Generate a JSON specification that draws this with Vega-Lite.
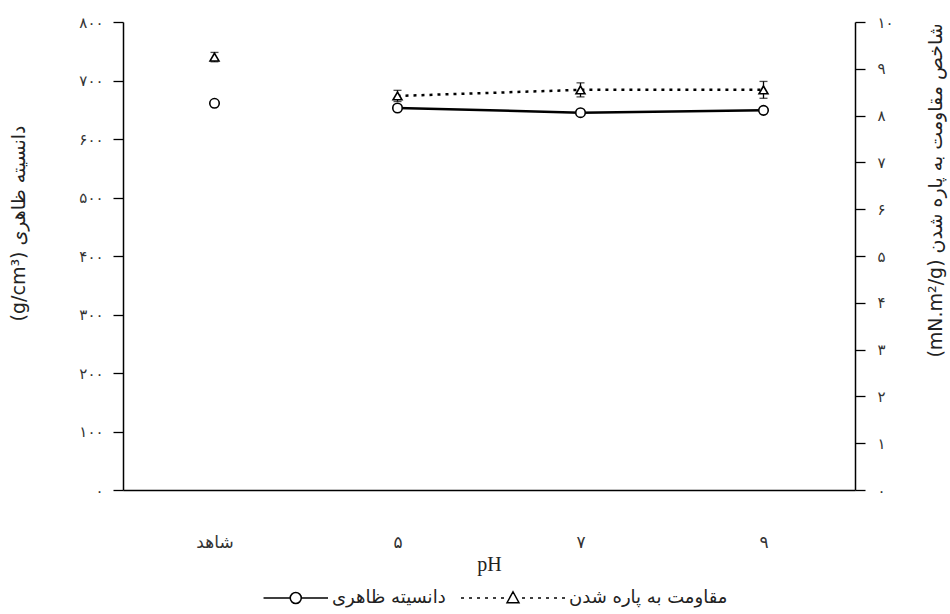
{
  "$schema": "https://vega.github.io/schema/vega-lite/v6.json",
  "width": 732,
  "height": 468,
  "autosize": {"type": "none"},
  "padding": {"left": 123, "top": 22, "right": 95, "bottom": 124},
  "background": "white",
  "config": {
    "view": {"stroke": null},
    "axis": {"grid": false, "domainColor": "black", "tickColor": "black", "labelColor": "#333", "titleColor": "#222"}
  },
  "data": {
    "values": [
      {"ph": "شاهد", "series": "دانسیته ظاهری", "value": 661},
      {"ph": "۵", "series": "دانسیته ظاهری", "value": 653},
      {"ph": "۷", "series": "دانسیته ظاهری", "value": 645},
      {"ph": "۹", "series": "دانسیته ظاهری", "value": 649},
      {"ph": "شاهد", "series": "مقاومت به پاره شدن", "value": 9.25, "err": 0.1},
      {"ph": "۵", "series": "مقاومت به پاره شدن", "value": 8.42, "err": 0.12},
      {"ph": "۷", "series": "مقاومت به پاره شدن", "value": 8.55, "err": 0.15},
      {"ph": "۹", "series": "مقاومت به پاره شدن", "value": 8.55, "err": 0.18}
    ]
  },
  "encoding": {
    "x": {
      "field": "ph",
      "type": "nominal",
      "sort": ["شاهد", "۵", "۷", "۹"],
      "scale": {"type": "point", "padding": 0.5},
      "axis": {
        "orient": "bottom",
        "domain": true,
        "domainWidth": 1.5,
        "ticks": false,
        "labelAngle": 0,
        "labelPadding": 44,
        "labelFont": "DejaVu Sans",
        "labelFontSize": 17,
        "title": "pH",
        "titleFont": "Liberation Serif",
        "titleFontSize": 20,
        "titleFontWeight": "normal",
        "titlePadding": 4
      }
    }
  },
  "layer": [
    {
      "transform": [{"filter": "datum.series === 'دانسیته ظاهری'"}],
      "encoding": {
        "y": {
          "field": "value",
          "type": "quantitative",
          "scale": {"domain": [0, 800], "nice": false},
          "axis": {
            "orient": "left",
            "values": [0, 100, 200, 300, 400, 500, 600, 700, 800],
            "labelExpr": "['۰','۱۰۰','۲۰۰','۳۰۰','۴۰۰','۵۰۰','۶۰۰','۷۰۰','۸۰۰'][datum.value/100]",
            "tickSize": 10,
            "tickWidth": 1.3,
            "domainWidth": 1.5,
            "labelPadding": 10,
            "labelFont": "DejaVu Sans",
            "labelFontSize": 15,
            "title": "(g/cm³) دانسیته ظاهری",
            "titleFont": "DejaVu Sans",
            "titleFontSize": 19,
            "titleFontWeight": "normal",
            "titleAngle": -90,
            "titleX": -105,
            "titleY": 201,
            "titleAlign": "center",
            "titleBaseline": "middle"
          }
        }
      },
      "layer": [
        {
          "transform": [{"filter": "datum.ph !== 'شاهد'"}],
          "mark": {"type": "line", "color": "black", "strokeWidth": 2.5},
          "encoding": {}
        },
        {
          "mark": {"type": "point", "shape": "circle", "filled": true, "fill": "white", "stroke": "black", "strokeWidth": 1.6, "size": 90, "opacity": 1},
          "encoding": {}
        },
        {
          "transform": [{"filter": "false"}],
          "mark": {"type": "point", "filled": true, "fill": "white", "stroke": "black", "strokeWidth": 2.5, "opacity": 1},
          "encoding": {
            "shape": {
              "field": "series",
              "type": "nominal",
              "scale": {
                "domain": ["دانسیته ظاهری", "مقاومت به پاره شدن"],
                "range": [
                  "M-0.24,0L0.274,0M0.486,0L1,0M0.274,0A0.106,0.106,0,1,1,0.486,0A0.106,0.106,0,1,1,0.274,0",
                  "M-1,0L-0.942,0M-0.846,0L-0.788,0M-0.692,0L-0.634,0M-0.538,0L-0.48,0M-0.385,0L-0.327,0M-0.231,0L-0.173,0M0.173,0L0.231,0M0.327,0L0.385,0M0.481,0L0.539,0M0.635,0L0.693,0M0.789,0L0.847,0M0.942,0L1,0M0,-0.12L0.115,0.09L-0.115,0.09Z"
                ]
              },
              "legend": {
                "orient": "none",
                "legendX": 100,
                "legendY": 523,
                "direction": "horizontal",
                "title": null,
                "padding": 0,
                "columnPadding": 12,
                "labelFont": "DejaVu Sans",
                "labelFontSize": 18,
                "labelColor": "#222",
                "labelOffset": 3,
                "symbolSize": 10816,
                "encode": {
                  "symbols": {
                    "update": {
                      "fill": {"value": "white"},
                      "stroke": {"value": "black"},
                      "strokeWidth": {"value": 2.5},
                      "opacity": {"value": 1},
                      "fillOpacity": {"value": 1},
                      "strokeOpacity": {"value": 1}
                    }
                  }
                }
              }
            }
          }
        }
      ]
    },
    {
      "transform": [{"filter": "datum.series === 'مقاومت به پاره شدن'"}],
      "encoding": {
        "y": {
          "field": "value",
          "type": "quantitative",
          "scale": {"domain": [0, 10], "nice": false},
          "axis": {
            "orient": "right",
            "values": [0, 1, 2, 3, 4, 5, 6, 7, 8, 9, 10],
            "labelExpr": "['۰','۱','۲','۳','۴','۵','۶','۷','۸','۹','۱۰'][datum.value]",
            "tickSize": 10,
            "tickWidth": 1.3,
            "domainWidth": 1.5,
            "labelPadding": 12,
            "labelFont": "DejaVu Sans",
            "labelFontSize": 15,
            "title": "(mN.m²/g) شاخص مقاومت به پاره شدن",
            "titleFont": "DejaVu Sans",
            "titleFontSize": 19,
            "titleFontWeight": "normal",
            "titleAngle": -90,
            "titleX": 80,
            "titleY": 168,
            "titleAlign": "center",
            "titleBaseline": "middle"
          }
        }
      },
      "layer": [
        {
          "transform": [{"filter": "datum.ph !== 'شاهد'"}],
          "mark": {"type": "line", "color": "black", "strokeWidth": 2.5, "strokeDash": [3, 5], "strokeCap": "butt"},
          "encoding": {}
        },
        {
          "mark": {"type": "errorbar", "color": "black", "ticks": {"size": 8, "thickness": 1.3}, "rule": {"strokeWidth": 1.3}},
          "encoding": {"yError": {"field": "err"}}
        },
        {
          "mark": {"type": "point", "shape": "triangle-up", "filled": true, "fill": "white", "stroke": "black", "strokeWidth": 1.6, "size": 80, "opacity": 1},
          "encoding": {}
        }
      ]
    }
  ],
  "resolve": {"scale": {"y": "independent"}}
}
